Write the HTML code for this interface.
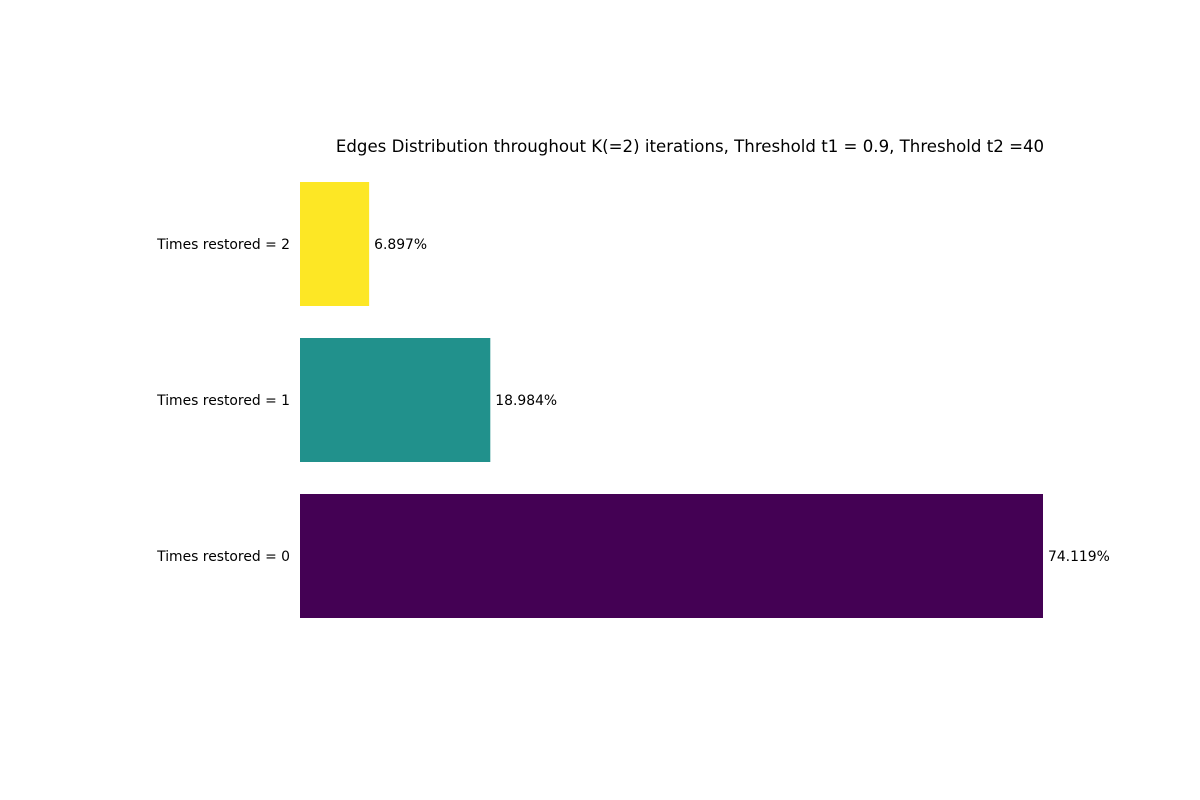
<!DOCTYPE html>
<html><head><meta charset="utf-8"><style>
body{margin:0;background:#fff;}
svg{display:block;font-family:"DejaVu Sans","Liberation Sans",sans-serif;}
</style></head><body>
<svg id="chart" width="1200" height="800">
<text x="690" y="152" text-anchor="middle" font-size="16.6" fill="#000">Edges Distribution throughout K(=2) iterations, Threshold t1 = 0.9, Threshold t2 =40</text>
<g id="bars"></g>
</svg>
<script>
const categories = ["Times restored = 0", "Times restored = 1", "Times restored = 2"];
const values = [74.119, 18.984, 6.897];
const valueLabels = ["74.119%", "18.984%", "6.897%"];
const colors = ["#440154", "#21918c", "#fde725"];
const x0 = 300, pxPerUnit = 743 / 74.119;
function xScale(v){ return x0 + v * pxPerUnit; }
function yCenter(i){ return 556 - i * 156; }
const barH = 124;
const g = document.getElementById('bars');
const NS = "http://www.w3.org/2000/svg";
categories.forEach((c, i) => {
  const r = document.createElementNS(NS, 'rect');
  r.setAttribute('x', x0);
  r.setAttribute('y', yCenter(i) - barH/2);
  r.setAttribute('width', xScale(values[i]) - x0);
  r.setAttribute('height', barH);
  r.setAttribute('fill', colors[i]);
  
  
  g.appendChild(r);
  const l = document.createElementNS(NS, 'text');
  l.setAttribute('x', 290);
  l.setAttribute('y', yCenter(i) + 5);
  l.setAttribute('text-anchor', 'end');
  l.setAttribute('font-size', '13.9');
  l.textContent = c;
  
  
  g.appendChild(l);
  const v = document.createElementNS(NS, 'text');
  v.setAttribute('x', xScale(values[i]) + 5);
  v.setAttribute('y', yCenter(i) + 5);
  v.setAttribute('font-size', '13.9');
  v.textContent = valueLabels[i];
  
  
  g.appendChild(v);
});
</script>
</body></html>
